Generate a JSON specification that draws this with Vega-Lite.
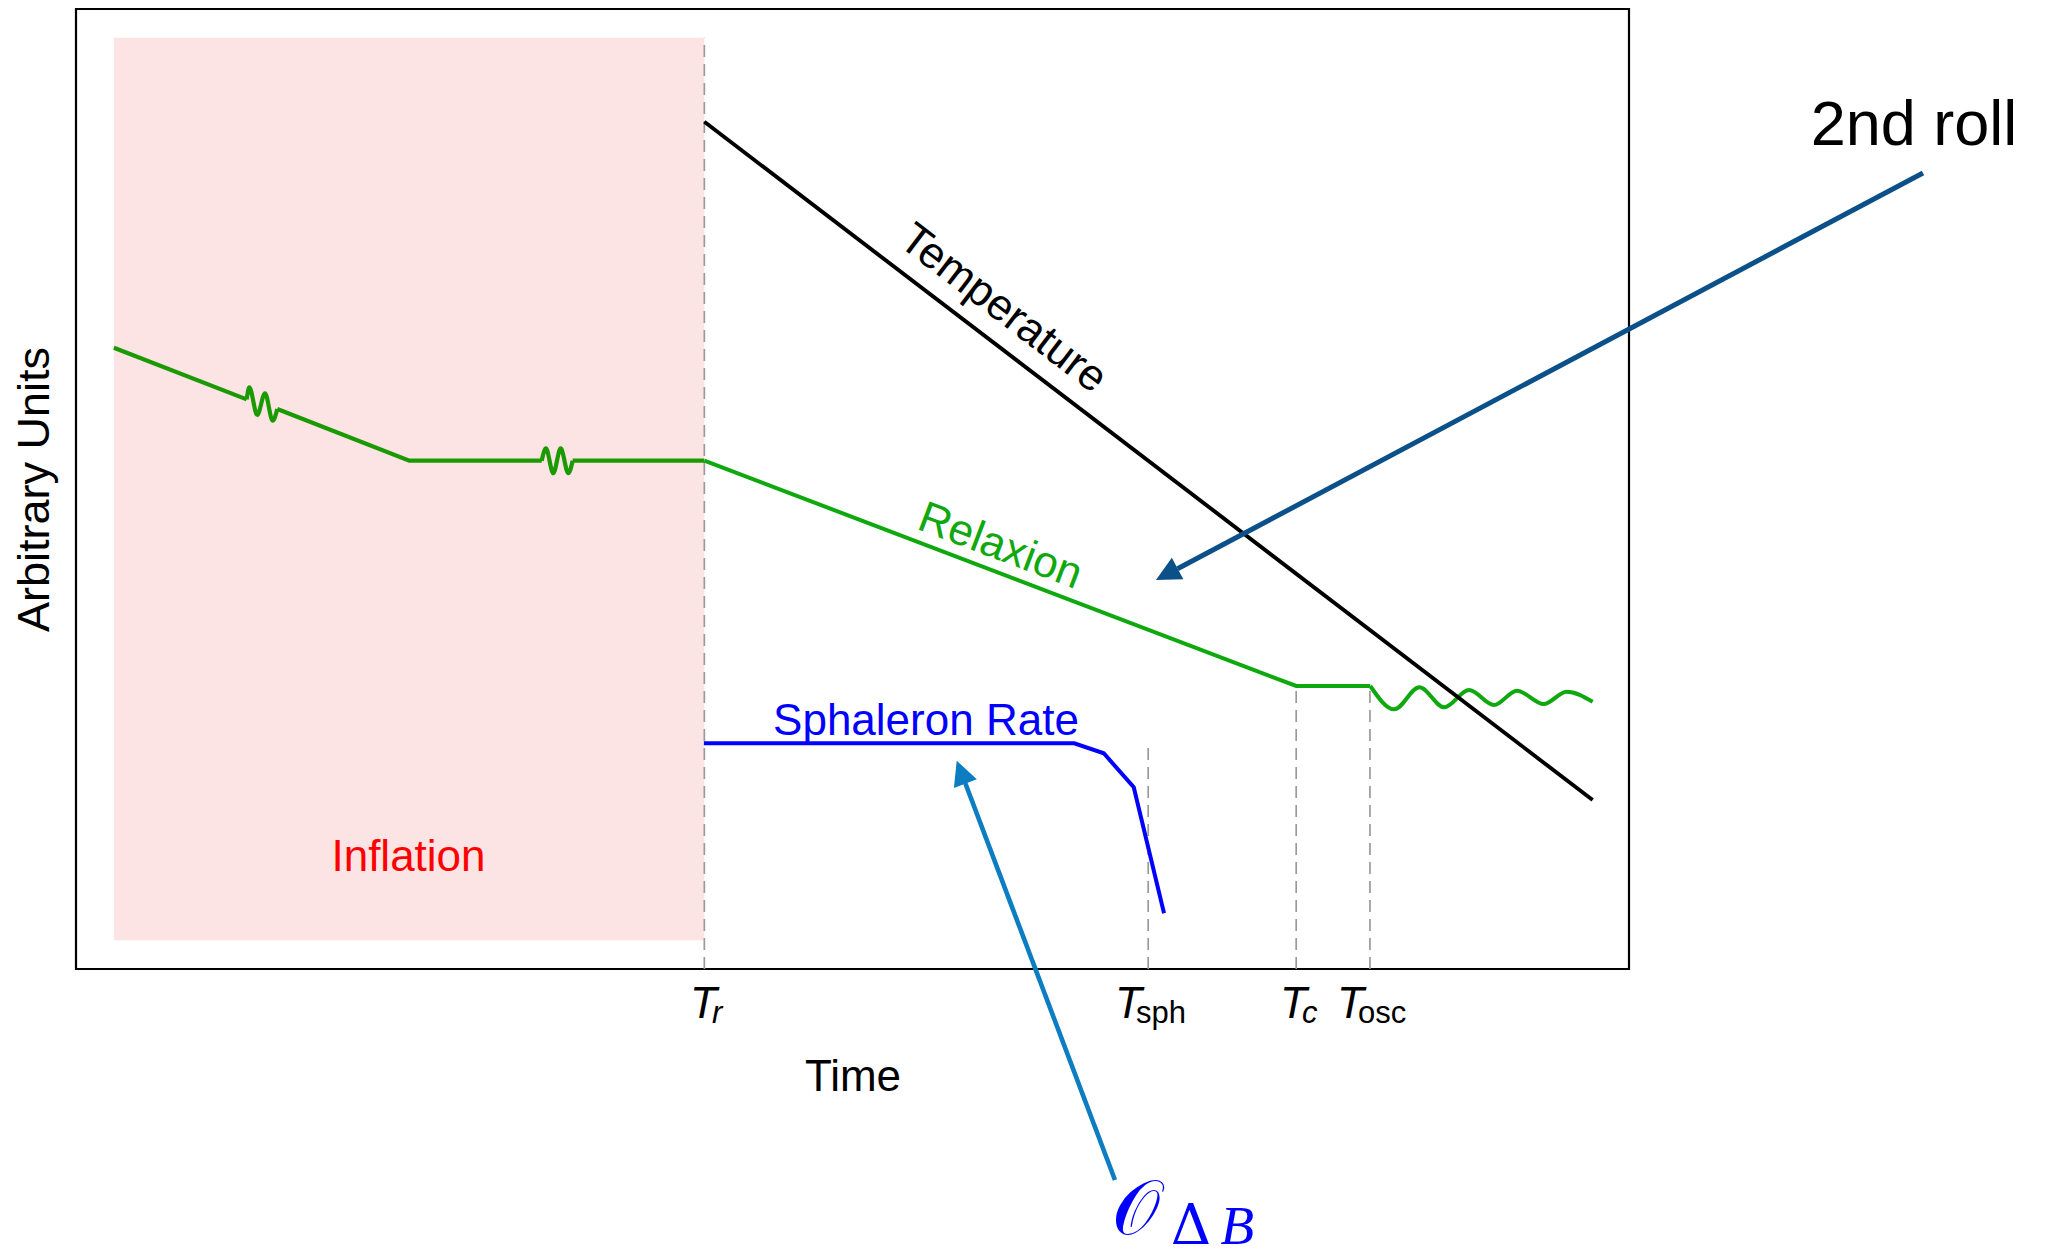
{
  "$schema": "https://vega.github.io/schema/vega-lite/v6.json",
  "width": 1553,
  "height": 960,
  "autosize": {"type": "none"},
  "padding": {"left": 76, "top": 9, "right": 424, "bottom": 281},
  "background": "white",
  "config": {"view": {"stroke": "#000", "strokeWidth": 2.2}, "font": "Liberation Sans"},
  "encoding": {
    "x": {"field": "x", "type": "quantitative", "scale": {"domain": [0, 100], "nice": false, "zero": false},
      "axis": {"title": "Time", "domain": false, "ticks": false, "labels": false, "grid": false, "titleFont": "Liberation Sans", "titleFontSize": 44, "titleFontWeight": "normal", "titleColor": "#000", "titleY": 121, "titleBaseline": "alphabetic"}},
    "y": {"field": "y", "type": "quantitative", "scale": {"domain": [0, 100], "nice": false, "zero": false},
      "axis": {"title": "Arbitrary Units", "domain": false, "ticks": false, "labels": false, "grid": false, "titleFont": "Liberation Sans", "titleFontSize": 45, "titleFontWeight": "normal", "titleColor": "#000", "titleX": -28, "titleY": 480, "titleAngle": -90, "titleBaseline": "alphabetic"}}
  },
  "layer": [
    {
      "data": {"values": [{"x": 2.44, "x2": 40.46, "y": 3, "y2": 97}]},
      "mark": {"type": "rect", "color": "#fde4e4"},
      "encoding": {"x2": {"field": "x2"}, "y2": {"field": "y2"}}
    },
    {
      "data": {"values": [
        {"x": 40.46, "y": 0, "y2": 97},
        {"x": 69.04, "y": 0, "y2": 23.5},
        {"x": 78.57, "y": 0, "y2": 29.48},
        {"x": 83.32, "y": 0, "y2": 29.48}
      ]},
      "mark": {"type": "rule", "color": "#9a9a9a", "strokeDash": [12, 7], "strokeWidth": 1.7},
      "encoding": {"y2": {"field": "y2"}}
    },
    {
      "data": {"values": [
        {"x": 2.44, "y": 64.72, "seg": "a"}, {"x": 10.99, "y": 59.34, "seg": "a"},
        {"x": 12.96, "y": 58.33, "seg": "b"}, {"x": 21.46, "y": 52.95, "seg": "b"}, {"x": 29.99, "y": 52.95, "seg": "b"},
        {"x": 31.98, "y": 52.95, "seg": "c"}, {"x": 40.46, "y": 52.95, "seg": "c"}
      ]},
      "mark": {"type": "line", "color": "#1b9900", "strokeWidth": 4.2},
      "encoding": {"detail": {"field": "seg"}}
    },
    {
      "data": {"values": [
        {"x": 10.99, "y": 59.34, "seg": "w1"}, {"x": 11.16, "y": 60.59, "seg": "w1"}, {"x": 11.67, "y": 57.71, "seg": "w1"},
        {"x": 12.17, "y": 59.97, "seg": "w1"}, {"x": 12.67, "y": 57.11, "seg": "w1"}, {"x": 12.96, "y": 58.33, "seg": "w1"},
        {"x": 29.99, "y": 52.95, "seg": "w2"}, {"x": 30.26, "y": 54.24, "seg": "w2"}, {"x": 30.73, "y": 51.64, "seg": "w2"},
        {"x": 31.21, "y": 54.24, "seg": "w2"}, {"x": 31.70, "y": 51.64, "seg": "w2"}, {"x": 31.98, "y": 52.95, "seg": "w2"}
      ]},
      "mark": {"type": "line", "color": "#1b9900", "strokeWidth": 4.2, "interpolate": "monotone"},
      "encoding": {"detail": {"field": "seg"}}
    },
    {
      "data": {"values": [
        {"x": 40.46, "y": 52.95}, {"x": 78.57, "y": 29.48}, {"x": 83.34, "y": 29.48}
      ]},
      "mark": {"type": "line", "color": "#0fa80f", "strokeWidth": 4},
      "encoding": {}
    },
    {
      "data": {"values": [
        {"x": 83.34, "y": 29.48}, {"x": 84.89, "y": 27.05}, {"x": 86.50, "y": 29.34}, {"x": 88.10, "y": 27.26},
        {"x": 89.70, "y": 29.06}, {"x": 91.31, "y": 27.5}, {"x": 92.78, "y": 28.99}, {"x": 94.51, "y": 27.6},
        {"x": 95.98, "y": 28.89}, {"x": 97.66, "y": 27.84}
      ]},
      "mark": {"type": "line", "color": "#0fa80f", "strokeWidth": 4, "interpolate": "monotone"},
      "encoding": {}
    },
    {
      "data": {"values": [{"x": 40.46, "y": 88.25}, {"x": 97.66, "y": 17.6}]},
      "mark": {"type": "line", "color": "#000", "strokeWidth": 3.9},
      "encoding": {}
    },
    {
      "data": {"values": [
        {"x": 40.43, "y": 23.51}, {"x": 64.28, "y": 23.51}, {"x": 66.18, "y": 22.47}, {"x": 68.11, "y": 18.93}, {"x": 70.06, "y": 5.8}
      ]},
      "mark": {"type": "line", "color": "#0000ff", "strokeWidth": 4},
      "encoding": {}
    },
    {
      "data": {"values": [{"x": 118.93, "y": 82.92}, {"x": 70.93, "y": 41.69}]},
      "mark": {"type": "line", "color": "#0b5088", "strokeWidth": 5},
      "encoding": {}
    },
    {
      "data": {"values": [{"x": 69.54, "y": 40.52}]},
      "mark": {"type": "point", "shape": "M0,0L-1,2L1,2Z", "size": 600, "angle": 242, "filled": true, "color": "#0b5088", "opacity": 1, "strokeWidth": 0}
    },
    {
      "data": {"values": [{"x": 66.9, "y": -21.98}, {"x": 57.26, "y": 19.38}]},
      "mark": {"type": "line", "color": "#0b7dc0", "strokeWidth": 4.6},
      "encoding": {}
    },
    {
      "data": {"values": [{"x": 56.71, "y": 21.7}]},
      "mark": {"type": "point", "shape": "M0,0L-1,2L1,2Z", "size": 600, "angle": 339.3, "filled": true, "color": "#0b7dc0", "opacity": 1, "strokeWidth": 0}
    },
    {
      "data": {"values": [{"x": 21.41, "y": 10.2, "t": "Inflation"}]},
      "mark": {"type": "text", "color": "#ff0000", "fontSize": 44, "font": "Liberation Sans", "align": "center", "baseline": "alphabetic"},
      "encoding": {"text": {"field": "t"}}
    },
    {
      "data": {"values": [{"x": 54.73, "y": 24.4, "t": "Sphaleron Rate"}]},
      "mark": {"type": "text", "color": "#0000ff", "fontSize": 44, "font": "Liberation Sans", "align": "center", "baseline": "alphabetic"},
      "encoding": {"text": {"field": "t"}}
    },
    {
      "data": {"values": [{"x": 59.69, "y": 68.75, "t": "Temperature"}]},
      "mark": {"type": "text", "color": "#000", "fontSize": 44, "font": "Liberation Sans", "align": "center", "baseline": "middle", "angle": 37.4},
      "encoding": {"text": {"field": "t"}}
    },
    {
      "data": {"values": [{"x": 59.5, "y": 43.99, "t": "Relaxion"}]},
      "mark": {"type": "text", "color": "#0fa80f", "fontSize": 44, "font": "Liberation Sans", "align": "center", "baseline": "middle", "angle": 20.8},
      "encoding": {"text": {"field": "t"}}
    },
    {
      "data": {"values": [{"x": 118.35, "y": 85.83, "t": "2nd roll"}]},
      "mark": {"type": "text", "color": "#000", "fontSize": 63, "font": "Liberation Sans", "align": "center", "baseline": "alphabetic"},
      "encoding": {"text": {"field": "t"}}
    },
    {
      "data": {"values": [
        {"x": 39.54, "y": -5.1, "t": "T"}, {"x": 66.9, "y": -5.1, "t": "T"},
        {"x": 77.53, "y": -5.1, "t": "T"}, {"x": 81.2, "y": -5.1, "t": "T"}
      ]},
      "mark": {"type": "text", "color": "#000", "fontSize": 44, "font": "Liberation Sans", "fontStyle": "italic", "align": "left", "baseline": "alphabetic"},
      "encoding": {"text": {"field": "t"}}
    },
    {
      "data": {"values": [{"x": 40.95, "y": -5.6, "t": "r"}, {"x": 78.94, "y": -5.6, "t": "c"}]},
      "mark": {"type": "text", "color": "#000", "fontSize": 31, "font": "Liberation Sans", "fontStyle": "italic", "align": "left", "baseline": "alphabetic"},
      "encoding": {"text": {"field": "t"}}
    },
    {
      "data": {"values": [{"x": 68.25, "y": -5.6, "t": "sph"}, {"x": 82.55, "y": -5.6, "t": "osc"}]},
      "mark": {"type": "text", "color": "#000", "fontSize": 31, "font": "Liberation Sans", "align": "left", "baseline": "alphabetic"},
      "encoding": {"text": {"field": "t"}}
    },
    {
      "data": {"values": [{"x": 66.69, "y": -27.6, "t": "𝒪"}]},
      "mark": {"type": "text", "color": "#0000ff", "fontSize": 76, "font": "DejaVu Serif", "align": "left", "baseline": "alphabetic"},
      "encoding": {"text": {"field": "t"}}
    },
    {
      "data": {"values": [{"x": 70.5, "y": -28.6, "t": "Δ"}]},
      "mark": {"type": "text", "color": "#0000ff", "fontSize": 56, "font": "DejaVu Serif", "align": "left", "baseline": "alphabetic"},
      "encoding": {"text": {"field": "t"}}
    },
    {
      "data": {"values": [{"x": 73.7, "y": -28.6, "t": "B"}]},
      "mark": {"type": "text", "color": "#0000ff", "fontSize": 55, "font": "Liberation Serif", "fontStyle": "italic", "align": "left", "baseline": "alphabetic"},
      "encoding": {"text": {"field": "t"}}
    }
  ]
}
